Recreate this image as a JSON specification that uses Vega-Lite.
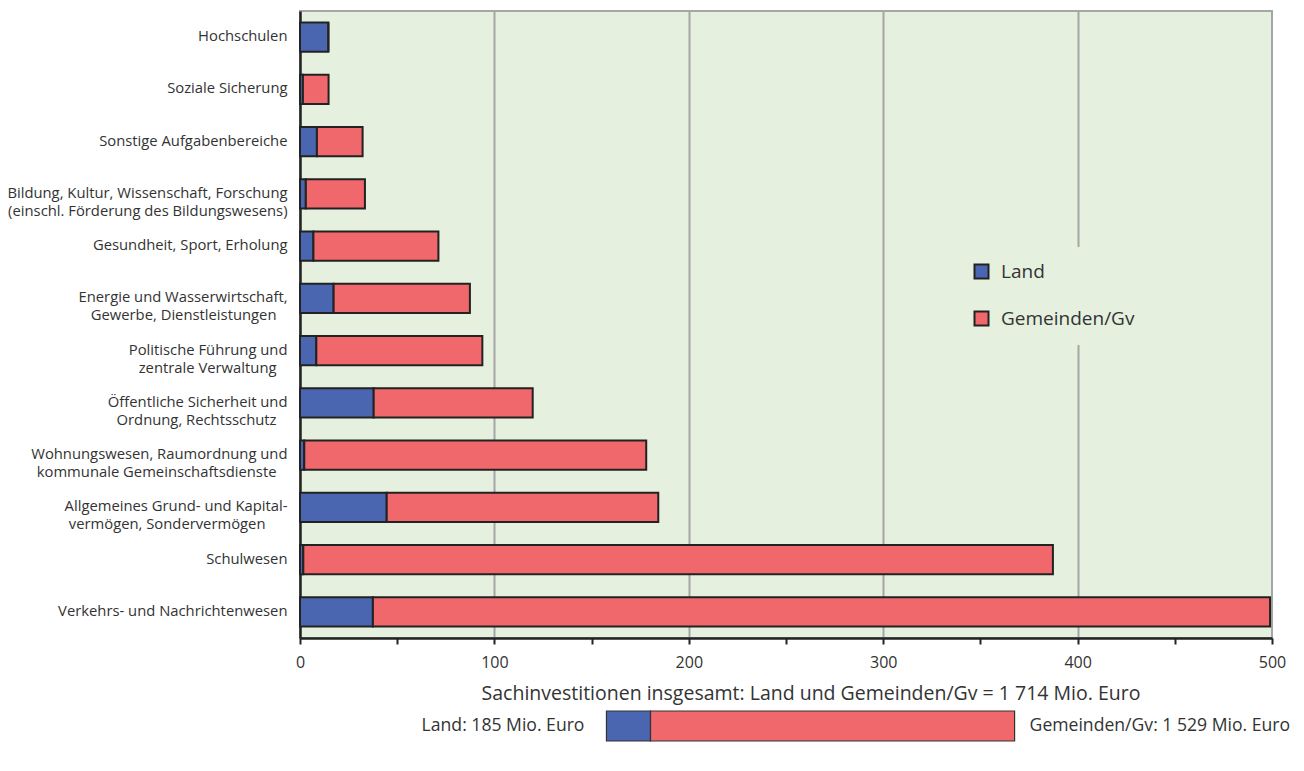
{
  "$schema": "https://vega.github.io/schema/vega-lite/v6.json",
  "padding": {"left": 5, "top": 10, "right": 16, "bottom": 5},
  "background": "white",
  "config": {"font": "Open Sans", "text": {"font": "Open Sans"}},
  "datasets": {
    "bereiche": [
      {"bereich": "Hochschulen", "gruppe": "Land", "wert": 14.6},
      {"bereich": "Hochschulen", "gruppe": "Gemeinden/Gv", "wert": 0},
      {"bereich": "Soziale Sicherung", "gruppe": "Land", "wert": 1.5},
      {"bereich": "Soziale Sicherung", "gruppe": "Gemeinden/Gv", "wert": 13.2},
      {"bereich": "Sonstige Aufgabenbereiche", "gruppe": "Land", "wert": 8.7},
      {"bereich": "Sonstige Aufgabenbereiche", "gruppe": "Gemeinden/Gv", "wert": 23.5},
      {"bereich": "Bildung, Kultur, Wissenschaft, Forschung|(einschl. Förderung des Bildungswesens)", "gruppe": "Land", "wert": 3.0},
      {"bereich": "Bildung, Kultur, Wissenschaft, Forschung|(einschl. Förderung des Bildungswesens)", "gruppe": "Gemeinden/Gv", "wert": 30.4},
      {"bereich": "Gesundheit, Sport, Erholung", "gruppe": "Land", "wert": 6.9},
      {"bereich": "Gesundheit, Sport, Erholung", "gruppe": "Gemeinden/Gv", "wert": 64.3},
      {"bereich": "Energie und Wasserwirtschaft,|Gewerbe, Dienstleistungen\u2800", "gruppe": "Land", "wert": 17.3},
      {"bereich": "Energie und Wasserwirtschaft,|Gewerbe, Dienstleistungen\u2800", "gruppe": "Gemeinden/Gv", "wert": 70.1},
      {"bereich": "Politische Führung und|zentrale Verwaltung\u2800", "gruppe": "Land", "wert": 8.4},
      {"bereich": "Politische Führung und|zentrale Verwaltung\u2800", "gruppe": "Gemeinden/Gv", "wert": 85.4},
      {"bereich": "Öffentliche Sicherheit und|Ordnung, Rechtsschutz\u2800", "gruppe": "Land", "wert": 37.9},
      {"bereich": "Öffentliche Sicherheit und|Ordnung, Rechtsschutz\u2800", "gruppe": "Gemeinden/Gv", "wert": 81.8},
      {"bereich": "Wohnungswesen, Raumordnung und|kommunale Gemeinschaftsdienste\u2800", "gruppe": "Land", "wert": 2.2},
      {"bereich": "Wohnungswesen, Raumordnung und|kommunale Gemeinschaftsdienste\u2800", "gruppe": "Gemeinden/Gv", "wert": 175.9},
      {"bereich": "Allgemeines Grund- und Kapital-|vermögen, Sondervermögen\u2800\u2800", "gruppe": "Land", "wert": 44.6},
      {"bereich": "Allgemeines Grund- und Kapital-|vermögen, Sondervermögen\u2800\u2800", "gruppe": "Gemeinden/Gv", "wert": 139.7},
      {"bereich": "Schulwesen", "gruppe": "Land", "wert": 1.7},
      {"bereich": "Schulwesen", "gruppe": "Gemeinden/Gv", "wert": 385.6},
      {"bereich": "Verkehrs- und Nachrichtenwesen", "gruppe": "Land", "wert": 37.5},
      {"bereich": "Verkehrs- und Nachrichtenwesen", "gruppe": "Gemeinden/Gv", "wert": 461.5}
    ],
    "gesamt": [
      {"art": "Insgesamt", "gruppe": "Land", "wert": 185, "beschriftung": "Land: 185 Mio. Euro"},
      {"art": "Insgesamt", "gruppe": "Gemeinden/Gv", "wert": 1529, "beschriftung": "Gemeinden/Gv: 1 529 Mio. Euro"}
    ]
  },
  "resolve": {"scale": {"x": "independent", "y": "independent"}},
  "spacing": 12,
  "vconcat": [
    {
      "width": 972,
      "height": 627,
      "view": {"fill": "#e5f0df", "stroke": "#a6a6a6", "strokeWidth": 2},
      "data": {"name": "bereiche"},
      "mark": {"type": "bar", "stroke": "#222222", "strokeWidth": 2},
      "encoding": {
        "y": {
          "field": "bereich", "type": "nominal", "sort": null,
          "scale": {"paddingInner": 0.44, "paddingOuter": 0.22},
          "axis": {
            "title": null,
            "labelExpr": "split(datum.label, '|')",
            "labelFontSize": 14.8,
            "labelColor": "#333333",
            "labelLineHeight": 18,
            "ticks": false,
            "tickSize": 0,
            "labelPadding": 13,
            "domainColor": "#222222",
            "domainWidth": 2.5,
            "minExtent": 294,
            "maxExtent": 294,
            "labelLimit": 400
          }
        },
        "x": {
          "field": "wert", "type": "quantitative", "stack": "zero",
          "scale": {"domain": [0, 500], "nice": false},
          "axis": {
            "title": null,
            "values": [0, 50, 100, 150, 200, 250, 300, 350, 400, 450, 500],
            "labelExpr": "datum.value % 100 == 0 ? datum.label : ''",
            "labelOverlap": false,
            "labelFlush": false,
            "grid": true,
            "gridColor": "#a6a6a6",
            "gridWidth": 2,
            "gridOpacity": {"condition": {"test": "datum.value % 100 == 0 && datum.value > 0 && datum.value < 500", "value": 1}, "value": 0},
            "domainColor": "#222222",
            "domainWidth": 2.5,
            "tickColor": "#222222",
            "tickWidth": 2,
            "tickSize": 6,
            "labelFontSize": 16,
            "labelColor": "#333333",
            "labelPadding": 10
          }
        },
        "color": {
          "field": "gruppe", "type": "nominal",
          "scale": {"domain": ["Land", "Gemeinden/Gv"], "range": ["#4a66b1", "#f0686b"]},
          "legend": {
            "title": null,
            "orient": "none",
            "legendX": 657,
            "legendY": 236,
            "fillColor": "#e5f0df",
            "padding": 15,
            "symbolType": "square",
            "symbolSize": 196,
            "symbolStrokeColor": "#222222",
            "symbolStrokeWidth": 2,
            "labelFontSize": 19,
            "labelColor": "#333333",
            "rowPadding": 24,
            "labelOffset": 10,
            "direction": "vertical"
          }
        },
        "order": {"field": "gruppe", "sort": "descending"}
      }
    },
    {
      "width": 972,
      "height": 30,
      "view": {"stroke": null},
      "data": {"name": "gesamt"},
      "title": {
        "text": "Sachinvestitionen insgesamt: Land und Gemeinden/Gv = 1 714 Mio. Euro",
        "fontSize": 19.5, "fontWeight": "normal", "color": "#333333",
        "anchor": "middle", "dx": 25, "offset": 6
      },
      "transform": [
        {"stack": "wert", "groupby": ["art"], "as": ["w0", "w1"], "sort": [{"field": "gruppe", "order": "descending"}]}
      ],
      "encoding": {
        "y": {"field": "art", "type": "nominal", "axis": null, "scale": {"padding": 0}}
      },
      "layer": [
        {
          "mark": {"type": "bar", "stroke": "#333333", "strokeWidth": 1.2},
          "encoding": {
            "x": {"field": "w0", "type": "quantitative", "scale": {"domain": [-1287, 2795], "nice": false, "zero": false}, "axis": null},
            "x2": {"field": "w1"},
            "color": {"field": "gruppe", "type": "nominal", "scale": {"domain": ["Land", "Gemeinden/Gv"], "range": ["#4a66b1", "#f0686b"]}, "legend": null}
          }
        },
        {
          "transform": [{"filter": "datum.gruppe == 'Land'"}],
          "mark": {"type": "text", "align": "right", "dx": -22, "fontSize": 17.6, "color": "#333333"},
          "encoding": {
            "x": {"field": "w0", "type": "quantitative"},
            "text": {"field": "beschriftung"}
          }
        },
        {
          "transform": [{"filter": "datum.gruppe == 'Gemeinden/Gv'"}],
          "mark": {"type": "text", "align": "left", "dx": 15, "fontSize": 17.6, "color": "#333333"},
          "encoding": {
            "x": {"field": "w1", "type": "quantitative"},
            "text": {"field": "beschriftung"}
          }
        }
      ]
    }
  ]
}
